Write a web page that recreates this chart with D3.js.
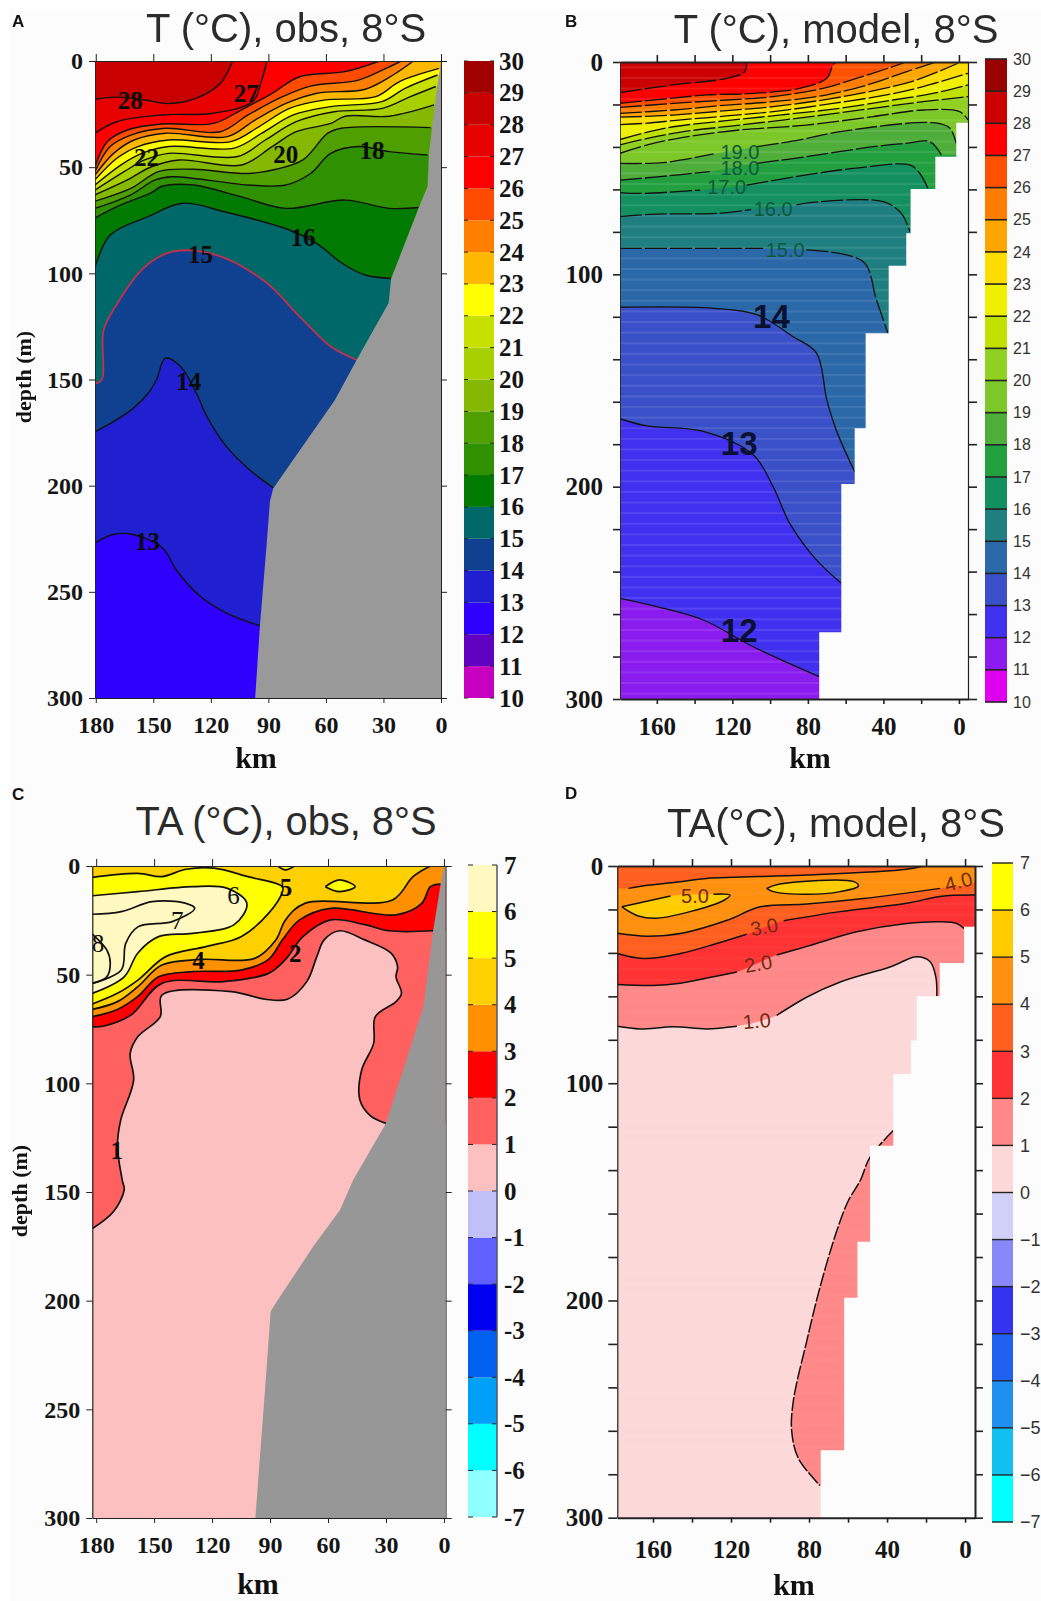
<!DOCTYPE html>
<html>
<head>
<meta charset="utf-8">
<script src="https://cdn.jsdelivr.net/npm/d3@7/dist/d3.min.js"></script>
<style>
  html, body { margin: 0; padding: 0; background: #fff; }
  svg { display: block; filter: blur(0.4px); }
</style>
</head>
<body>
<div id="chart"></div>
<script>
// colour bands, lowest band first
const tLevels = d3.range(10, 31);
const taLevels = d3.range(-7, 8);
const tObsColors = ['#c800c0','#6000c0','#3000ff','#2020d0','#104090','#006868','#007a00','#2f9000','#4f9f00','#85b800',
  '#a8d000','#c8e000','#ffff00','#ffb800','#ff8000','#ff4b00','#ff0000','#e60000','#c80000','#a00000'];
const tModColors = ['#e000f0','#8a1cf0','#4030f0','#3a50c8','#2a68a8','#1f7f80','#149060','#22a040','#4fae3a','#7cc828',
  '#8fd020','#c0e000','#eef000','#ffdc00','#ffa500','#ff7d00','#ff5000','#ff0000','#cc0000','#990000'];
const taObsColors = ['#90ffff','#00ffff','#00a0f8','#0060f0','#0000f0','#6060ff','#c0c0f8','#fcc0c0','#ff6060','#ff0000',
  '#ff9000','#ffd000','#ffff00','#fff8c0'];
const taModColors = ['#00ffff','#10c0f0','#2090f0','#2060f0','#3333f0','#8888f8','#d0d0f8','#fdd8d8','#ff8888','#ff3333',
  '#ff6020','#ff9010','#ffcc00','#ffff00'];

// isolines, [km, depth]. null = gap for a contour label
const tObs13 = [[180.4,227],[171,223],[160.5,223],[145,229.5],[138,239.7],[125.7,252],[111.8,260],[94.4,266]];
const tObs14 = [[180.4,174.6],[171,170],[160.5,163.6],[152.7,156.5],[148.3,150],[143.7,140],[135.7,144],[127.5,156.5],[122,167.5],[111.8,181.6],[99.7,192.6],[87.5,201]];
const tObs15 = [[180.4,152],[176.8,150],[176,127],[170.7,117],[154.5,97],[140,89.8],[117,91.4],[91.6,104],[73.7,120.4],[57.5,134.5],[44,140.8]];
const tObs16 = [[180.4,97],[172.5,82],[152.7,73.3],[134.7,67],[113,71],[79,79.6],[64.7,86],[52,95],[39.5,100.8],[26,102.4]];
const tObs17 = [[180.4,74],[169,68.6],[151,62],[145.5,59],[129,58.4],[104,64],[80.8,69.4],[50,65.5],[27,69.4],[11.7,69]];
const tObs18 = [[180.4,69.4],[161.7,63],[149,56],[140,54.5],[100.6,58.4],[80.8,58.4],[68,53],[57.5,43.5],[43,40.3],[27,42.7],[7,44.3]];
const tObs19 = [[180.4,66],[161.7,60],[147,52],[129,51],[100.6,53],[86,51],[72,46.6],[59,34],[52,31.7],[5.4,31.4]];
const tObs20 = [[180.4,63],[163.5,56],[151,49.8],[136.5,46.6],[104,49],[88,40.3],[75.5,33.3],[57.5,29.4],[50,26],[27,26],[3.6,20.7]];
const tObs21 = [[180.4,60.8],[165,52],[154.5,46.6],[142,43.5],[106,45],[91.6,37.2],[75.5,28.6],[55.7,23.9],[30.5,22.3],[16,16.8],[2.7,12]];
const tObs22 = [[180.4,58.4],[167,49],[156,43.5],[142,40.3],[107.8,41],[93.4,34],[77,25.4],[57.5,21.5],[30.5,19],[19,13],[1.8,6.6]];
const tObs23 = [[180.4,56],[169,45.8],[158,40.3],[142,37.2],[109.6,38],[95,31],[79,22.3],[61,18.4],[34,16.8],[21.6,9.7],[1,3.5]];
const tObs24 = [[180.4,53.7],[170.7,43.5],[160,37.2],[143.7,34],[111.4,35.6],[97,27.8],[80.8,20],[64.7,15.2],[39.5,13.3],[25,6.6],[14.4,0]];
const tObs25 = [[180.4,52],[172.5,40.3],[161.7,34.9],[143.7,31.7],[115,33.3],[100.6,25.4],[82.6,16.8],[68,11.8],[43,9],[28.7,3.5],[20.7,0]];
const tObs26 = [[180.4,49.8],[174,38],[163.5,32.5],[145.5,29.7],[118.6,29.4],[104,23],[88,15.2],[73.7,7.4],[50,5],[32,0]];
const tObs27 = [[180.4,34],[169,28.6],[145.5,25.4],[118.6,24.6],[98,19],[94,10.5],[90.7,0]];
const tObs28 = [[180.4,18],[169,17],[154.5,18.4],[142,20],[127.8,17.6],[115,10.5],[108.7,0]];
const obsShelfT = [[0,0],[2.7,16.8],[6.3,43.5],[7,59],[11.7,69.4],[26,102.4],[27.3,114],[44,140.8],[55.3,159.7],[87.5,201.3],[89.2,207.5],[91,228.7],[94.4,266],[96.9,300],[-1,300],[-1,0]];

const tMod12 = [[179.5,252.6],[160,256.5],[135.4,262.8],[109,275.4],[74,289.5]];
const tMod13 = [[179.5,168],[165.4,171.4],[135.4,174],[109,185],[98.4,200],[89.6,217.3],[75.5,234.5],[62.3,245.5]];
const tMod14 = [[179.5,115.5],[130,116],[107,119],[87.8,129.4],[75.5,137],[70,159],[65,173.3],[55.2,193]];
const tMod15 = [[179.5,87.8],[133.7,87.8],[103.7,87.8],null,[80.8,88.5],[50.8,94],[43.7,112],[37.6,127.8]];
const tMod16 = [[179.5,72.8],[160,71.6],[128.4,71.3],[110,69.5],null,[86,67.3],[79,66.2],[40,65.8],[30.5,71.3],[26,79.9]];
const tMod17 = [[179.5,61.5],[169,61.9],[137,60.3],null,[112.5,58],[80.8,53.2],[54.3,50],[26,48.5],[20.8,52.4],[16.4,59.5]];
const tMod18 = [[179.5,55.6],[158.4,54],[132,51.6],null,[107,47.7],[80.8,44.6],[45.5,39.9],[28,38.3],[15.5,37.5],[9.3,43.8]];
const tMod19 = [[179.5,47.7],[156.6,47.4],[130,43.3],null,[107,39.9],[84.3,36.7],[63,32.8],[13.8,28.6],[5,31],[1.4,38.3]];
const tMod20 = [[179.5,43],[165,39],[146,35.5],[116,32],[80.8,29.7],[45.5,25.7],[19,22.6],[-0.4,23.4],[-4.8,27.3]];
const tMod21 = [[179.5,39],[165,36],[146,32.8],[116,29.7],[80.8,26],[45.5,21.8],[19,18.7],[-4.8,16.3]];
const tMod22 = [[179.5,36.5],[165,33],[151.3,30.5],[123,27.6],[95,25],[63,21.8],[35,17.9],[13.8,14.8],[-4.8,10.8]];
const tMod23 = [[179.5,29.5],[165,28.8],[151.3,27.6],[123,25.4],[98.4,23.4],[66.7,19.5],[38.4,15.5],[19,11.6],[-4.8,5.3]];
const tMod24 = [[179.5,26],[151.3,25],[123,22.9],[98.4,21],[70,17.6],[42,12.9],[22.6,8.5],[0.5,0.6]];
const tMod25 = [[179.5,24.2],[151.3,22.6],[123,20.3],[98.4,18.7],[70,15.5],[45.5,10],[28,4.6],[12,0]];
const tMod26 = [[179.5,21.4],[151.3,19.5],[123,17.9],[98.4,16.3],[72,12.4],[54.3,7.7],[35,2.2],[28,0]];
const tMod27 = [[179.5,19.5],[151.3,17],[133.7,15.5],[109,14.8],[84.3,12.4],[70,7.7],[66.7,1.4],[65,0]];
const tMod28 = [[179.5,14.4],[151.3,10.8],[123,7.7],[113.4,4.6],[112.5,0]];
const tModStepKm = [-4.8,1.4,12.5,25.6,27.9,37.2,49.4,55.2,62.3,74];
const tModStepDepth = [28.6,44.6,59.8,80.7,96,127.8,172.5,198.7,268.6,300];

const taObs1 = [[181.7,166.7],[171,159],[165.5,149],[166.5,144.5],[169,129],[167.3,116.9],[160.6,98.5],[162.4,86.2],[158.4,78.5],[146.8,69.3],[146,59.4],[110,57.8],[92.5,61.3],[81,61.3],[71,53.2],[65.8,41.7],[62,34],[54,29.8],[41,34],[27.5,40],[24,46.3],[24.8,51],[22,58.6],[24.8,62.4],[35.5,69.3],[36.4,81.6],[42.6,93.9],[43.5,107.7],[38,115],[30,118.4]];
const taObs2 = [[182,74],[176,73.6],[162,68.6],[146,54],[114,53.2],[90.8,49.4],[82,43],[73,32.5],[58.7,24.8],[41,27],[28.4,29.8],[5.6,29.8]];
const taObs3 = [[182,69.3],[169,66],[158.4,60],[147.7,51],[130,48.6],[105,47.9],[90.8,43],[83.6,34],[74.7,24.8],[58.7,19.5],[24.8,22.5],[11.5,17.2],[7,9.5],[1.7,8.3]];
const taObs4 = [[182,66],[169,62.4],[158.4,55.5],[146,45.6],[126,43],[98,42.5],[87,34],[82,24.8],[72,17.2],[26.6,15.6],[16,4.9],[7,0]];
const taObs5 = [[182,5.2],[158.4,3.4],[146,4.9],[133.5,1.5],[119,1],[101.5,4.9],[83.6,9.5],[83.6,11.8],[90.8,21.8],[105,32.5],[122.8,37],[144,41.7],[158.4,52.5],[169,58.6],[182,63.5]];
const taObs6 = [[182,13.7],[158.4,11.8],[130,9.5],[112,10.3],[102,17.2],[108.6,27],[130,31],[147.7,32.5],[158.4,40],[165.5,51],[182,58.6]];
const taObs7 = [[182,22.2],[167,21],[151,16.4],[133.5,17.2],[129,19.5],[140.6,25.6],[158.4,28],[164.7,35.6],[167,47.9],[182,54]];
const taObs8 = [[182,31.3],[174.5,38.6],[172.7,44.8],[174.5,51],[182,54]];
const taObsDiamond = [[61.4,9.5],[54,6.4],[46,9.5],[54,11.8],[61.4,9.5]];
const taObsCap = [[86,0],[82,1.8],[77.4,0]];
const obsShelfTA = [[0,0],[1.7,8.3],[5.6,29.8],[10.6,64.7],[30,118.4],[47,144.5],[53.8,158.3],[67.6,175],[86.6,200.5],[89.7,205],[91.7,230],[97.6,300],[-2,300],[-2,0]];

const taMod1 = [[178.3,73.8],[166.7,75],[149.6,74],[132.5,75],[117,73.8],null,[96.6,68.8],[81,60.3],[64,53.4],[38.5,46.5],[24.8,41.8],[18,44],[15,51],[14.5,60]];
const taMod1Tail = [[36.8,121.8],[48.7,134],[53.8,144.9],[59.8,154],[65.8,168],[74.4,194],[81.2,218.8],[88,246],[88.9,260],[85.5,272.6],[74.4,285.2]];
const taMod2 = [[178.3,54.5],[160,55],[146,54],[129,51],[117,48.8],null,[96.6,41],[81,37],[55.5,30.3],[30,26.5],[12.8,25.7],[4.3,26.5],[0.5,28.8]];
const taMod3 = [[178.3,40.3],[165,42.6],[146,40.3],[127.4,35.7],[112,31.4],null,[93,25.2],[64,21],[30,17.2],[12.8,14],[-5.1,13.4]];
const taMod4Low = [[178.3,31],[163.2,32.3],[144.4,30.8],[122,25],[105,18.8],[81,17.5],[52,15],[12.8,10.3]];
const taMod4Top = [[172.6,10.3],[161.5,8.8],[146,7.2],[132.5,5.7],[81,4.2],[30,1.5],[21.4,0]];
const taMod5Left = [[176,18.8],[151,13.8],null,[129,13],[120.5,13.4],[124,16],[141,21],[158,24],[167.5,23],[176,18.8]];
const taMod5Mid = [[101.7,10.3],[95,8.3],[57,7.2],[54.7,9.2],[64,11.8],[81,13],[98.3,11.8],[101.7,10.3]];
const taModStepKm = [-5.1,0.5,13,24.8,27.7,36.8,48.7,55.2,62,74];
const taModStepDepth = [28,44.6,60,80.3,95.7,128.8,173,198.8,269,300];

const stripeDepths = d3.range(2, 300, 5);
const serif = '"Liberation Serif", "Times New Roman", serif';
const sans = '"Liberation Sans", Arial, sans-serif';
const PAGE_BG = '#fcfcfc';

const svg = d3.select('#chart').append('svg').attr('width', 1041).attr('height', 1601);
svg.append('rect').attr('x', 9).attr('y', 10).attr('width', 1032).attr('height', 1591).attr('fill', PAGE_BG);

// turn a bathymetry staircase into a polygon, so step corners stay square
function stepPolygon(kms, depths) {
  const pts = [[-10, 0], [kms[0], 0]];
  kms.forEach((k, i) => {
    if (i > 0) pts.push([k, depths[i - 1]]);
    pts.push([k, depths[i]]);
  });
  pts.push([-10, 310]);
  return pts;
}

function drawPanel(p) {
  const g = svg.append('g');
  const x = d3.scaleLinear().domain(p.kmDomain).range(p.xRange);
  const y = d3.scaleLinear().domain([0, 300]).range(p.yRange);
  const clipId = 'clip' + p.letter;
  g.append('clipPath').attr('id', clipId).append('rect')
    .attr('x', p.xRange[0]).attr('y', p.yRange[0])
    .attr('width', p.xRange[1] - p.xRange[0]).attr('height', p.yRange[1] - p.yRange[0]);

  const plot = g.append('g').attr('clip-path', `url(#${clipId})`);
  const band = lv => p.colors[lv - p.levels[0]];
  const curved = d3.line().defined(d => d).x(d => x(d[0])).y(d => y(d[1])).curve(d3.curveCatmullRom.alpha(0.5));
  const straight = d3.line().x(d => x(d[0])).y(d => y(d[1]));

  plot.append('rect').attr('x', p.xRange[0]).attr('y', p.yRange[0])
    .attr('width', p.xRange[1] - p.xRange[0]).attr('height', p.yRange[1] - p.yRange[0])
    .attr('fill', band(p.baseLevel));

  // painter's order: each isoline floods its warmer side
  p.fills.forEach(f => {
    const pts = f.pts.filter(d => d);
    const first = pts[0], last = pts[pts.length - 1];
    let tail = 'Z';
    if (f.close === 'up') {
      tail = straight([[-20, last[1]], [-20, -20], [200, -20], [200, first[1]]]).replace('M', 'L') + 'Z';
    } else if (f.close === 'right') {
      tail = straight([[-20, last[1]], [-20, first[1]]]).replace('M', 'L') + 'Z';
    }
    plot.append('path').attr('d', curved(pts) + tail).attr('fill', band(f.level));
  });

  if (p.stripeOpacity) {
    plot.selectAll('.stripe').data(stripeDepths).join('rect').attr('class', 'stripe')
      .attr('x', p.xRange[0]).attr('width', p.xRange[1] - p.xRange[0])
      .attr('y', d => y(d)).attr('height', 2)
      .attr('fill', '#fff').attr('opacity', p.stripeOpacity);
  }

  plot.selectAll('.iso').data(p.lines).join('path').attr('class', 'iso')
    .attr('d', d => curved(d.pts))
    .attr('fill', 'none')
    .attr('stroke', d => d.color || '#111')
    .attr('stroke-width', d => d.width || p.lineWidth)
    .attr('stroke-dasharray', d => d.dash || null);

  // land: grey shelf for the obs panels, blank steps for the model panels
  plot.append('path').attr('d', straight(p.land) + 'Z').attr('fill', p.landColor);

  g.selectAll('.clabel').data(p.labels).join('text').attr('class', 'clabel')
    .attr('transform', d => `translate(${x(d.km)},${y(d.depth)}) rotate(${d.rot || 0})`)
    .attr('text-anchor', 'middle').attr('dy', '.35em')
    .attr('font-family', d => d.family).attr('font-size', d => d.size)
    .attr('font-weight', d => d.weight).attr('fill', d => d.color)
    .text(d => d.text);

  // axes
  const s = p.axis;
  const styleAxis = (sel, width) => {
    sel.attr('font-family', serif).attr('font-weight', 'bold').attr('font-size', s.font);
    sel.select('.domain').attr('stroke', '#222').attr('stroke-width', width);
    sel.selectAll('line').attr('stroke', '#222').attr('stroke-width', s.tickWidth);
    sel.selectAll('text').attr('fill', '#151515');
  };
  const kmFmt = d => (p.kmLabels.includes(d) ? d : '');
  const depthFmt = d => (p.depthLabels.includes(d) ? d : '');

  g.append('g').attr('transform', `translate(0,${p.yRange[1]})`)
    .call(d3.axisBottom(x).tickValues(p.kmTicks).tickSize(s.bottomTick).tickSizeOuter(0).tickPadding(s.bottomPad).tickFormat(kmFmt))
    .call(a => styleAxis(a, s.frame));
  g.append('g').attr('transform', `translate(0,${p.yRange[0]})`)
    .call(d3.axisTop(x).tickValues(p.kmTicks).tickSize(7).tickSizeOuter(0).tickFormat(''))
    .call(a => styleAxis(a, s.frame));
  g.append('g').attr('transform', `translate(${p.xRange[0]},0)`)
    .call(d3.axisLeft(y).tickValues(p.depthTicks).tickSize(s.leftTick).tickSizeOuter(0).tickPadding(s.leftPad).tickFormat(depthFmt))
    .call(a => styleAxis(a, s.frameLeft));
  g.append('g').attr('transform', `translate(${p.xRange[1]},0)`)
    .call(d3.axisRight(y).tickValues(p.depthTicks).tickSize(s.rightTick).tickSizeOuter(0).tickFormat(''))
    .call(a => styleAxis(a, s.frameRight));

  // colour bar
  const c = p.bar;
  const barY = d3.scaleLinear().domain(d3.extent(p.levels)).range([c.bottom, c.top]);
  g.selectAll('.cell').data(p.colors).join('rect').attr('class', 'cell')
    .attr('x', c.left).attr('width', c.right - c.left)
    .attr('y', (d, i) => barY(p.levels[i + 1]))
    .attr('height', (d, i) => barY(p.levels[i]) - barY(p.levels[i + 1]))
    .attr('fill', d => d);
  g.selectAll('.cellEdge').data(p.levels).join('line').attr('class', 'cellEdge')
    .attr('x1', c.left).attr('x2', c.right)
    .attr('y1', d => barY(d)).attr('y2', d => barY(d))
    .attr('stroke', '#222').attr('stroke-width', c.edge)
    .attr('stroke-dasharray', c.edgeDash || null);
  if (c.sideLine) {
    g.append('line').attr('x1', c.right).attr('x2', c.right)
      .attr('y1', c.top).attr('y2', c.bottom).attr('stroke', '#556').attr('stroke-width', 1.5);
  }
  g.append('g').attr('transform', `translate(${c.right},0)`)
    .call(d3.axisRight(barY).tickValues(p.levels).tickSize(0).tickPadding(c.labelPad).tickFormat(c.format || (d => d)))
    .call(a => {
      a.select('.domain').remove();
      a.attr('font-family', c.family).attr('font-size', c.font).attr('font-weight', c.weight);
      a.selectAll('text').attr('fill', c.labelColor);
    });

  // titles and axis names
  g.append('text').attr('x', p.titleX).attr('y', p.titleY).attr('text-anchor', 'middle')
    .attr('font-family', sans).attr('font-size', p.titleSize).attr('fill', '#2b2b2b').text(p.title);
  g.append('text').attr('x', p.letterX).attr('y', p.letterY)
    .attr('font-family', sans).attr('font-weight', 'bold').attr('font-size', 17).attr('fill', '#111').text(p.letter);
  g.append('text').attr('x', p.kmX).attr('y', p.kmY).attr('text-anchor', 'middle')
    .attr('font-family', serif).attr('font-weight', 'bold').attr('font-size', 30).attr('fill', '#111').text('km');
  if (p.depthX) {
    g.append('text').attr('transform', `translate(${p.depthX},${p.depthY}) rotate(-90)`).attr('text-anchor', 'middle')
      .attr('font-family', serif).attr('font-weight', 'bold').attr('font-size', 22).attr('fill', '#111').text('depth (m)');
  }
}

const up = (level, pts) => ({ level, pts, close: 'up' });
const lbl = (text, km, depth, size, weight, family, color, rot) => ({ text, km, depth, size, weight, family, color, rot });
const obsLbl = (text, km, depth) => lbl(text, km, depth, 25, 'bold', serif, '#0a0a0a');
const modLbl = (text, km, depth) => lbl(text, km, depth, 20, 'normal', sans, '#0b5a3c');
const bigLbl = (text, km, depth) => lbl(text, km, depth, 33, 'bold', sans, '#0a1030');
const anomLbl = (text, km, depth, rot) => lbl(text, km, depth, 20, 'normal', sans, '#6e2a10', rot);
const dash = '22 3';

const tObsIso = [tObs13, tObs14, tObs15, tObs16, tObs17, tObs18, tObs19, tObs20, tObs21, tObs22, tObs23, tObs24, tObs25, tObs26, tObs27, tObs28];
const tModIso = [tMod12, tMod13, tMod14, tMod15, tMod16, tMod17, tMod18, tMod19, tMod20, tMod21, tMod22, tMod23, tMod24, tMod25, tMod26, tMod27, tMod28];

// A
drawPanel({
  letter: 'A', letterX: 12, letterY: 27, title: 'T (°C), obs, 8°S', titleX: 286, titleY: 42, titleSize: 40,
  kmDomain: [180.4, 0], xRange: [95, 441], yRange: [61, 698], lineWidth: 1.4,
  levels: tLevels, colors: tObsColors, baseLevel: 12,
  fills: tObsIso.map((d, i) => up(13 + i, d)),
  lines: tObsIso.map((d, i) => (i === 2 ? { pts: d, color: '#c2304f', width: 1.8 } : { pts: d })),
  land: obsShelfT, landColor: '#999999',
  labels: [obsLbl('28', 162, 18.4), obsLbl('27', 101.5, 15), obsLbl('22', 153.6, 45.4), obsLbl('20', 81, 44), obsLbl('18', 36, 42),
    obsLbl('16', 72, 83), obsLbl('15', 125.4, 91), obsLbl('14', 131.5, 151), obsLbl('13', 153, 226)],
  kmTicks: [180, 150, 120, 90, 60, 30, 0], kmLabels: [180, 150, 120, 90, 60, 30, 0],
  depthTicks: [0, 50, 100, 150, 200, 250, 300], depthLabels: [0, 50, 100, 150, 200, 250, 300],
  axis: { font: 24, bottomTick: 5, bottomPad: 13, leftTick: 6, leftPad: 6, rightTick: 6, tickWidth: 1, frame: 1, frameLeft: 0.8, frameRight: 1 },
  bar: { left: 464, right: 494, top: 61, bottom: 698, edge: 1, edgeDash: '4 22 4', labelPad: 5, font: 25, family: serif, weight: 'bold', labelColor: '#151515' },
  kmX: 256, kmY: 768, depthX: 31, depthY: 377
});

// B
drawPanel({
  letter: 'B', letterX: 565, letterY: 27, title: 'T (°C), model, 8°S', titleX: 836, titleY: 43, titleSize: 40,
  kmDomain: [179.5, -4.8], xRange: [620, 968], yRange: [62, 699], lineWidth: 1.3,
  levels: tLevels, colors: tModColors, baseLevel: 11,
  fills: tModIso.map((d, i) => up(12 + i, d)),
  lines: tModIso.map((d, i) => ({ pts: d, dash: i >= 3 ? dash : null })),
  land: stepPolygon(tModStepKm, tModStepDepth), landColor: PAGE_BG, stripeOpacity: 0.1,
  labels: [modLbl('19.0', 116, 42.2), modLbl('18.0', 116, 50), modLbl('17.0', 123, 58.7), modLbl('16.0', 98.4, 69), modLbl('15.0', 92, 88.5),
    bigLbl('14', 99.3, 120), bigLbl('13', 116.4, 179.6), bigLbl('12', 116.4, 267.5)],
  kmTicks: d3.range(0, 180, 20), kmLabels: [160, 120, 80, 40, 0],
  depthTicks: d3.range(0, 301, 20), depthLabels: [0, 100, 200, 300],
  axis: { font: 25, bottomTick: 5, bottomPad: 13, leftTick: 7, leftPad: 10, rightTick: 9, tickWidth: 1.6, frame: 2, frameLeft: 0.8, frameRight: 1.2 },
  bar: { left: 985, right: 1007, top: 59, bottom: 702, edge: 1.6, labelPad: 6, font: 16, family: sans, weight: 'normal', labelColor: '#333' },
  kmX: 810, kmY: 768
});

// C
drawPanel({
  letter: 'C', letterX: 12, letterY: 800, title: 'TA (°C), obs, 8°S', titleX: 286, titleY: 835, titleSize: 39.8,
  kmDomain: [182, -0.9], xRange: [92.3, 445.7], yRange: [866, 1518], lineWidth: 1.7,
  levels: taLevels, colors: taObsColors, baseLevel: 0,
  fills: [up(1, taObs1), up(2, taObs2), up(3, taObs3), up(4, taObs4),
    { level: 5, pts: taObsCap, close: 'poly' }, { level: 5, pts: taObsDiamond, close: 'poly' },
    { level: 5, pts: taObs5, close: 'poly' }, { level: 6, pts: taObs6, close: 'poly' }],
  lines: [taObs1, taObs2, taObs3, taObs4, taObs5, taObs6, taObs7, taObs8, taObsDiamond, taObsCap].map(d => ({ pts: d })),
  land: obsShelfTA, landColor: '#979797',
  labels: [obsLbl('1', 169.4, 130.7), obsLbl('2', 76.9, 40), obsLbl('4', 127, 43.2), obsLbl('5', 81.8, 9.8),
    lbl('6', 108.9, 13.3, 25, 'normal', serif, '#111'), lbl('7', 138, 24.8, 25, 'normal', serif, '#111'), lbl('8', 179, 35.6, 25, 'normal', serif, '#111')],
  kmTicks: [180, 150, 120, 90, 60, 30, 0], kmLabels: [180, 150, 120, 90, 60, 30, 0],
  depthTicks: [0, 50, 100, 150, 200, 250, 300], depthLabels: [0, 50, 100, 150, 200, 250, 300],
  axis: { font: 24, bottomTick: 5, bottomPad: 13, leftTick: 6, leftPad: 6, rightTick: 6, tickWidth: 1, frame: 1, frameLeft: 1.2, frameRight: 0.8 },
  bar: { left: 468, right: 497, top: 865, bottom: 1517, edge: 1, edgeDash: '5 19 5', sideLine: true, labelPad: 7, font: 25, family: serif, weight: 'bold', labelColor: '#151515' },
  kmX: 258, kmY: 1594, depthX: 27, depthY: 1191
});

// D
const taMod4Fill = taMod4Low.concat([[-5.1, 7], [-6, 0]], taMod4Top.slice().reverse(), [[178.3, 10.3]]);
drawPanel({
  letter: 'D', letterX: 565, letterY: 799, title: 'TA(°C), model, 8°S', titleX: 836, titleY: 837, titleSize: 40,
  kmDomain: [178.3, -5.1], xRange: [617.3, 975], yRange: [866, 1517.7], lineWidth: 1.5,
  levels: taLevels, colors: taModColors, baseLevel: 0,
  fills: [up(1, taMod1), { level: 1, pts: taMod1Tail, close: 'right' }, up(2, taMod2), up(3, taMod3),
    { level: 4, pts: taMod4Fill, close: 'poly' }, { level: 5, pts: taMod5Left, close: 'poly' }, { level: 5, pts: taMod5Mid, close: 'poly' }],
  lines: [taMod1, taMod2, taMod3, taMod4Low, taMod4Top, taMod5Left, taMod5Mid].map(d => ({ pts: d }))
    .concat([{ pts: taMod1Tail, dash: '14 2' }]),
  land: stepPolygon(taModStepKm, taModStepDepth), landColor: PAGE_BG, stripeOpacity: 0.04,
  labels: [anomLbl('5.0', 138.5, 13.8), anomLbl('4.0', 3.4, 7.2, -15), anomLbl('3.0', 103, 28, -10), anomLbl('2.0', 106, 45, -10), anomLbl('1.0', 106.8, 71.4, -5)],
  kmTicks: d3.range(0, 180, 20), kmLabels: [160, 120, 80, 40, 0],
  depthTicks: d3.range(0, 301, 20), depthLabels: [0, 100, 200, 300],
  axis: { font: 25, bottomTick: 5, bottomPad: 18, leftTick: 9, leftPad: 5, rightTick: 8, tickWidth: 1.6, frame: 2, frameLeft: 1.2, frameRight: 2 },
  bar: { left: 992, right: 1013, top: 863, bottom: 1522, edge: 1.4, labelPad: 7, font: 18, family: sans, weight: 'normal', labelColor: '#333',
    format: d => (d < 0 ? '\u2212' + (-d) : d) },
  kmX: 794, kmY: 1595
});
</script>
</body>
</html>
